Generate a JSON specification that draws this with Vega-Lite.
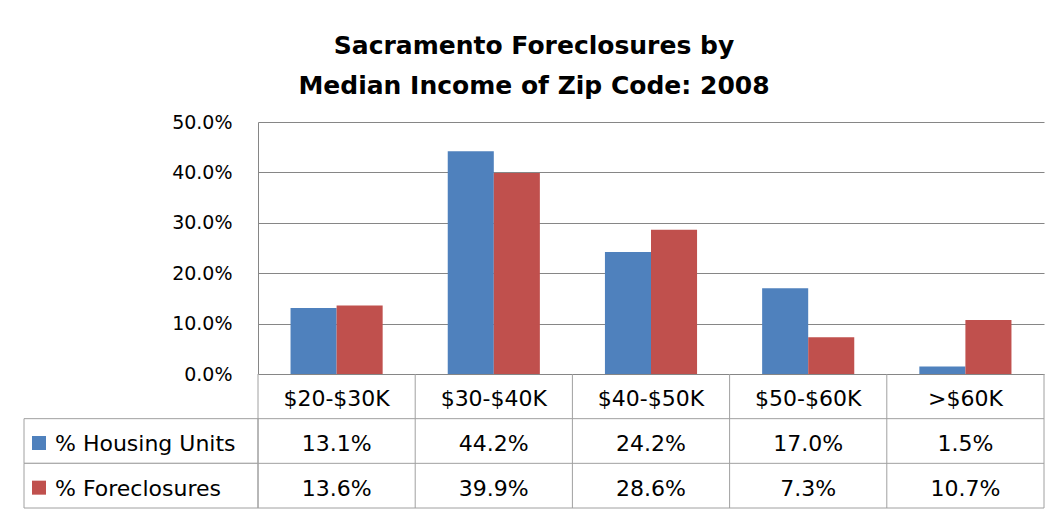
{
  "$schema": "https://vega.github.io/schema/vega-lite/v6.json",
  "padding": {"left": 23, "top": 34, "right": 0, "bottom": 0},
  "title": {
    "text": ["Sacramento Foreclosures by", "Median Income of Zip Code: 2008"],
    "font": "DejaVu Sans", "fontSize": 25, "fontWeight": "bold", "lineHeight": 40,
    "anchor": "middle", "frame": "bounds", "offset": 14, "color": "#000000"
  },
  "datasets": {
    "d": [
      {"cat": "$20-$30K", "series": "% Housing Units", "value": 0.131},
      {"cat": "$30-$40K", "series": "% Housing Units", "value": 0.442},
      {"cat": "$40-$50K", "series": "% Housing Units", "value": 0.242},
      {"cat": "$50-$60K", "series": "% Housing Units", "value": 0.170},
      {"cat": ">$60K", "series": "% Housing Units", "value": 0.015},
      {"cat": "$20-$30K", "series": "% Foreclosures", "value": 0.136},
      {"cat": "$30-$40K", "series": "% Foreclosures", "value": 0.399},
      {"cat": "$40-$50K", "series": "% Foreclosures", "value": 0.286},
      {"cat": "$50-$60K", "series": "% Foreclosures", "value": 0.073},
      {"cat": ">$60K", "series": "% Foreclosures", "value": 0.107}
    ]
  },
  "data": {"name": "d"},
  "columns": 2,
  "spacing": 0,
  "bounds": "flush",
  "resolve": {"scale": {"x": "independent", "y": "independent", "color": "shared"}},
  "concat": [
    {
      "width": 234, "height": 252,
      "transform": [{"filter": "datum.cat === '$20-$30K' && datum.series === '% Housing Units'"}],
      "mark": {"type": "text"},
      "encoding": {"text": {"value": ""}}
    },
    {
      "width": 786, "height": 252,
      "mark": {"type": "bar"},
      "encoding": {
        "x": {"field": "cat", "type": "nominal", "scale": {"domain": ["$20-$30K", "$30-$40K", "$40-$50K", "$50-$60K", ">$60K"], "paddingInner": 0.414, "paddingOuter": 0.207}, "axis": null},
        "xOffset": {"field": "series", "type": "nominal", "scale": {"domain": ["% Housing Units", "% Foreclosures"], "paddingInner": 0, "paddingOuter": 0}},
        "y": {"field": "value", "type": "quantitative",
          "scale": {"domain": [0, 0.5], "nice": false},
          "axis": {"format": ".1%", "values": [0, 0.1, 0.2, 0.3, 0.4, 0.5], "title": null, "grid": true, "gridColor": "#868686", "gridOpacity": 1, "domainColor": "#868686", "ticks": false, "labelPadding": 26, "labelFontSize": 19, "labelColor": "#000000", "labelFont": "DejaVu Sans"}},
        "color": {"field": "series", "type": "nominal", "scale": {"domain": ["% Housing Units", "% Foreclosures"], "range": ["#4F81BD", "#C0504D"]}, "legend": null}
      }
    },
    {
      "width": 234, "height": 134,
      "transform": [{"filter": "datum.cat === '$20-$30K'"}],
      "encoding": {
        "y": {"field": "series", "type": "nominal", "scale": {"domain": ["Income", "% Housing Units", "% Foreclosures"], "paddingInner": 0, "paddingOuter": 0}, "axis": null}
      },
      "layer": [
        {"mark": {"type": "rect", "fill": "#ffffff", "stroke": "#A0A0A0", "strokeWidth": 1}},
        {"mark": {"type": "point", "shape": "square", "filled": true, "size": 196, "xOffset": -102, "yOffset": 2, "opacity": 1},
         "encoding": {"color": {"field": "series", "type": "nominal", "scale": {"domain": ["% Housing Units", "% Foreclosures"], "range": ["#4F81BD", "#C0504D"]}, "legend": null}}},
        {"mark": {"type": "text", "align": "left", "dx": -86, "dy": 3, "fontSize": 22, "font": "DejaVu Sans", "color": "#000000"},
         "encoding": {"text": {"field": "series"}}}
      ]
    },
    {
      "width": 786, "height": 134,
      "layer": [
        {
          "transform": [{"filter": "datum.series === '% Housing Units'"}],
          "mark": {"type": "rule", "color": "#A0A0A0", "strokeWidth": 1},
          "encoding": {"x": {"field": "cat", "type": "nominal", "bandPosition": 0, "scale": {"domain": ["$20-$30K", "$30-$40K", "$40-$50K", "$50-$60K", ">$60K"], "paddingInner": 0, "paddingOuter": 0}, "axis": null}}
        },
        {
          "transform": [{"filter": "datum.series === '% Housing Units' && datum.cat === '>$60K'"}],
          "mark": {"type": "rule", "color": "#A0A0A0", "strokeWidth": 1},
          "encoding": {"x": {"field": "cat", "type": "nominal", "bandPosition": 1}}
        },
        {
          "transform": [{"filter": "datum.cat === '$20-$30K'"}],
          "mark": {"type": "rule", "color": "#A0A0A0", "strokeWidth": 1},
          "encoding": {"y": {"field": "series", "type": "nominal", "bandPosition": 0, "scale": {"domain": ["Income", "% Housing Units", "% Foreclosures"], "paddingInner": 0, "paddingOuter": 0}, "axis": null}}
        },
        {
          "transform": [{"filter": "datum.cat === '$20-$30K' && datum.series === '% Foreclosures'"}],
          "mark": {"type": "rule", "color": "#A0A0A0", "strokeWidth": 1},
          "encoding": {"y": {"field": "series", "type": "nominal", "bandPosition": 1}}
        },
        {
          "mark": {"type": "text", "fontSize": 22, "dy": 3, "font": "DejaVu Sans", "color": "#000000"},
          "encoding": {
            "x": {"field": "cat", "type": "nominal"},
            "y": {"field": "series", "type": "nominal"},
            "text": {"field": "value", "type": "quantitative", "format": ".1%"}
          }
        },
        {
          "transform": [{"filter": "datum.series === '% Housing Units'"}],
          "mark": {"type": "text", "fontSize": 22, "dy": 3, "font": "DejaVu Sans", "color": "#000000"},
          "encoding": {
            "x": {"field": "cat", "type": "nominal"},
            "y": {"datum": "Income", "type": "nominal"},
            "text": {"field": "cat", "type": "nominal"}
          }
        }
      ]
    }
  ],
  "config": {"view": {"stroke": null}, "font": "DejaVu Sans"}
}
